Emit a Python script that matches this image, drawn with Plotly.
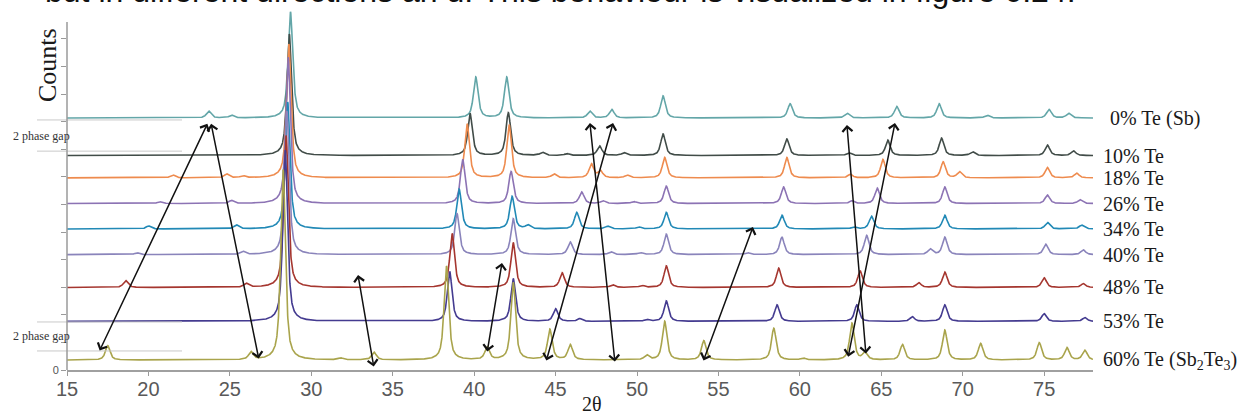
import numpy as np
import plotly.graph_objects as go

# ---------------- data ----------------
series_names = ["0% Te (Sb)", "10% Te", "18% Te", "26% Te", "34% Te", "40% Te",
                "48% Te", "53% Te", "60% Te (Sb<sub>2</sub>Te<sub>3</sub>)"]
series_colors = ["#63a6a8", "#414c48", "#ee8b4e", "#8c73b4", "#2189b6", "#8a84bb",
                 "#a5362f", "#443b90", "#a9a44c"]
# vertical offsets (stacking) of each pattern, in axis units
baselines = [9.13, 7.77, 6.96, 6.03, 5.11, 4.18, 2.99, 1.76, 0.36]

# peak positions (2theta, degrees) and intensities (axis units) per composition
pos_00 = [23.7, 25.1, 28.72, 40.1, 42.0, 47.1, 48.45, 51.6, 59.4, 62.9, 65.95, 68.55, 71.5, 75.3, 76.5]
int_00 = [0.25, 0.10, 3.85, 1.48, 1.48, 0.25, 0.31, 0.80, 0.52, 0.17, 0.42, 0.52, 0.10, 0.31, 0.17]

pos_10 = [28.65, 39.75, 42.1, 44.2, 45.7, 47.7, 49.2, 51.6, 59.2, 63.0, 65.4, 68.7, 70.6, 75.2, 76.8]
int_10 = [4.40, 1.52, 1.55, 0.11, 0.07, 0.35, 0.10, 0.78, 0.60, 0.10, 0.56, 0.63, 0.14, 0.38, 0.17]

pos_18 = [21.5, 24.8, 25.8, 28.62, 39.57, 42.15, 44.9, 47.2, 47.75, 49.4, 51.7, 59.2, 63.1, 65.1, 68.8, 69.8, 75.2, 77.0]
int_18 = [0.11, 0.14, 0.07, 4.85, 1.95, 1.92, 0.14, 0.50, 0.25, 0.10, 0.74, 0.74, 0.13, 0.67, 0.58, 0.22, 0.38, 0.17]

pos_26 = [20.7, 25.1, 28.58, 39.3, 42.27, 46.6, 47.9, 49.8, 51.8, 59.0, 63.2, 64.75, 68.9, 75.2, 77.2]
int_26 = [0.07, 0.11, 5.30, 1.60, 1.16, 0.42, 0.10, 0.07, 0.63, 0.60, 0.10, 0.56, 0.60, 0.31, 0.14]

pos_34 = [20.0, 25.4, 28.55, 39.08, 42.33, 43.3, 46.3, 48.2, 50.1, 51.8, 58.9, 63.3, 64.4, 68.9, 75.2, 77.3]
int_34 = [0.11, 0.14, 4.60, 1.44, 1.18, 0.13, 0.60, 0.10, 0.07, 0.60, 0.50, 0.07, 0.46, 0.50, 0.24, 0.14]

pos_40 = [19.3, 25.8, 28.5, 38.95, 42.4, 45.9, 48.4, 50.2, 51.8, 56.8, 58.9, 64.1, 68.0, 68.9, 75.1, 77.4]
int_40 = [0.07, 0.11, 5.20, 1.48, 1.30, 0.46, 0.10, 0.07, 0.74, 0.07, 0.63, 0.70, 0.20, 0.63, 0.38, 0.17]

pos_48 = [18.6, 26.0, 28.45, 38.65, 42.4, 45.4, 48.5, 50.3, 51.8, 58.7, 63.7, 67.3, 68.9, 75.0, 77.4]
int_48 = [0.25, 0.14, 5.50, 1.95, 1.62, 0.53, 0.10, 0.07, 0.78, 0.70, 0.60, 0.17, 0.56, 0.35, 0.14]

pos_53 = [28.4, 38.5, 42.4, 45.0, 46.5, 50.6, 51.8, 58.6, 63.5, 66.9, 68.9, 75.0, 77.5]
int_53 = [6.20, 1.80, 1.55, 0.46, 0.10, 0.07, 0.74, 0.60, 0.60, 0.17, 0.60, 0.28, 0.14]

pos_60 = [17.5, 26.3, 28.27, 31.8, 33.85, 38.3, 40.8, 42.4, 44.65, 45.9, 50.6, 51.7, 54.1, 58.4, 60.2,
          63.2, 64.0, 66.3, 68.9, 71.1, 74.7, 76.4, 77.5]
int_60 = [0.52, 0.28, 6.90, 0.07, 0.28, 3.40, 0.45, 2.80, 1.10, 0.55, 0.17, 1.40, 0.70, 1.15, 0.07,
          1.33, 0.27, 0.56, 1.08, 0.60, 0.63, 0.45, 0.35]

peak_positions = [pos_00, pos_10, pos_18, pos_26, pos_34, pos_40, pos_48, pos_53, pos_60]
peak_intensities = [int_00, int_10, int_18, int_26, int_34, int_40, int_48, int_53, int_60]

# double-headed arrows tracking peak shifts: (2theta, counts) pairs, bottom end -> top end
arrow_x0 = [16.96, 26.79, 33.85, 40.79, 44.41, 48.65, 54.05, 64.06, 62.95]
arrow_y0 = [0.65, 0.36, 0.07, 0.62, 0.29, 0.25, 0.29, 0.54, 0.43]
arrow_x1 = [23.62, 23.85, 32.87, 41.71, 48.53, 47.11, 57.12, 62.89, 65.84]
arrow_y1 = [8.92, 8.92, 3.44, 3.88, 8.95, 8.95, 5.18, 8.88, 8.95]

x_ticks = [15, 20, 25, 30, 35, 40, 45, 50, 55, 60, 65, 70, 75]
y_ticks = list(range(0, 13))
y_ticktext = ["0"] + [""] * 12

# "2 phase gap" bands (y values of the thin gray lines)
gap_upper = [9.06, 7.93]
gap_lower = [1.74, 0.69]

# ---------------- figure ----------------
X_MIN, X_MAX = 15.0, 78.0
Y_MAX = 370 / 27.6
SERIF = "Liberation Serif, Times New Roman, serif"
SANS = "Liberation Sans, Arial, sans-serif"


def pattern(x, positions, intensities, fwhm=0.34, eta=0.7):
    g = 0.5 * fwhm
    y = np.zeros_like(x)
    for c, h in zip(positions, intensities):
        lor = 1.0 / (1.0 + ((x - c) / g) ** 2)
        gau = np.exp(-np.log(2) * ((x - c) / g) ** 2)
        y += h * (eta * lor + (1 - eta) * gau)
    return y


two_theta = np.arange(X_MIN, X_MAX + 1e-9, 0.01)

fig = go.Figure()
for name, color, base, pp, ii in zip(series_names, series_colors, baselines,
                                      peak_positions, peak_intensities):
    fig.add_trace(go.Scatter(x=two_theta, y=base + pattern(two_theta, pp, ii),
                             mode="lines", name=name,
                             line=dict(color=color, width=1.6), hoverinfo="skip"))

annotations = []
# series labels on the right
for i, (name, base) in enumerate(zip(series_names, baselines)):
    annotations.append(dict(text=name, xref="paper", yref="y",
                            x=1.0146 if i == 0 else 1.0078, y=base,
                            xanchor="left", yanchor="middle", showarrow=False,
                            font=dict(family=SERIF, size=20, color="#1a1a1a")))
# arrows
for x0, y0, x1, y1 in zip(arrow_x0, arrow_y0, arrow_x1, arrow_y1):
    annotations.append(dict(text="", x=x1, y=y1, ax=x0, ay=y0,
                            xref="x", yref="y", axref="x", ayref="y",
                            showarrow=True, arrowside="end+start",
                            arrowhead=4, startarrowhead=4,
                            arrowsize=1.3, startarrowsize=1.3,
                            arrowwidth=1.5, arrowcolor="#111111", standoff=0,
                            startstandoff=0))
# phase-gap labels
for ys in (gap_upper, gap_lower):
    annotations.append(dict(text="2 phase gap", xref="paper", yref="y",
                            x=-0.0546, y=(ys[0] + ys[1]) / 2, xanchor="left",
                            yanchor="middle", showarrow=False,
                            font=dict(family=SERIF, size=12, color="#333333")))
# axis titles
annotations.append(dict(text="Counts", xref="paper", yref="paper",
                        x=(47 - 67) / 1026, y=(370 - 65) / 370, textangle=-90,
                        xanchor="center", yanchor="middle", showarrow=False,
                        font=dict(family=SERIF, size=26, color="#1a1a1a")))
annotations.append(dict(text="2θ", xref="paper", yref="paper",
                        x=(592 - 67) / 1026, y=(370 - 416) / 370,
                        xanchor="center", yanchor="bottom", showarrow=False,
                        borderpad=0,
                        font=dict(family=SERIF, size=20, color="#1a1a1a")))
# cropped document text above the figure
annotations.append(dict(text="but in different directions an d. This behaviour is visualized in figure 6.24.",
                        xref="paper", yref="paper", x=(43 - 67) / 1026,
                        y=1 - 11 / 370, xanchor="left", yanchor="bottom",
                        showarrow=False,
                        font=dict(family=SANS, size=32, color="#111111")))

shapes = []
for ys in (gap_upper, gap_lower):
    for yv in ys:
        shapes.append(dict(type="line", xref="paper", yref="y",
                           x0=(37 - 67) / 1026, x1=(182 - 67) / 1026, y0=yv, y1=yv,
                           line=dict(color="#c9c9c9", width=1)))
# y axis line (shorter than the plotting area)
shapes.append(dict(type="line", xref="paper", yref="y", x0=0, x1=0, y0=0,
                   y1=(370 - 22) / 27.6, line=dict(color="#9a9a9a", width=1.5)))

fig.update_layout(
    width=1247, height=417,
    margin=dict(l=67, r=154, t=0, b=47),
    paper_bgcolor="white", plot_bgcolor="white",
    showlegend=False,
    annotations=annotations, shapes=shapes,
    xaxis=dict(range=[X_MIN, X_MAX], tickvals=x_ticks, ticks="outside", ticklen=4,
               tickcolor="#9a9a9a", showline=True, linecolor="#a0a0a0", linewidth=1.5,
               showgrid=False, zeroline=False, ticklabelstandoff=-4,
               tickfont=dict(family=SANS, size=20, color="#595959")),
    yaxis=dict(range=[0, Y_MAX], tickvals=y_ticks, ticktext=y_ticktext, ticks="outside",
               ticklen=5, tickcolor="#9a9a9a", showline=False, showgrid=False,
               zeroline=False, tickfont=dict(family=SANS, size=11, color="#555555")),
)

fig.write_html("out.html")
